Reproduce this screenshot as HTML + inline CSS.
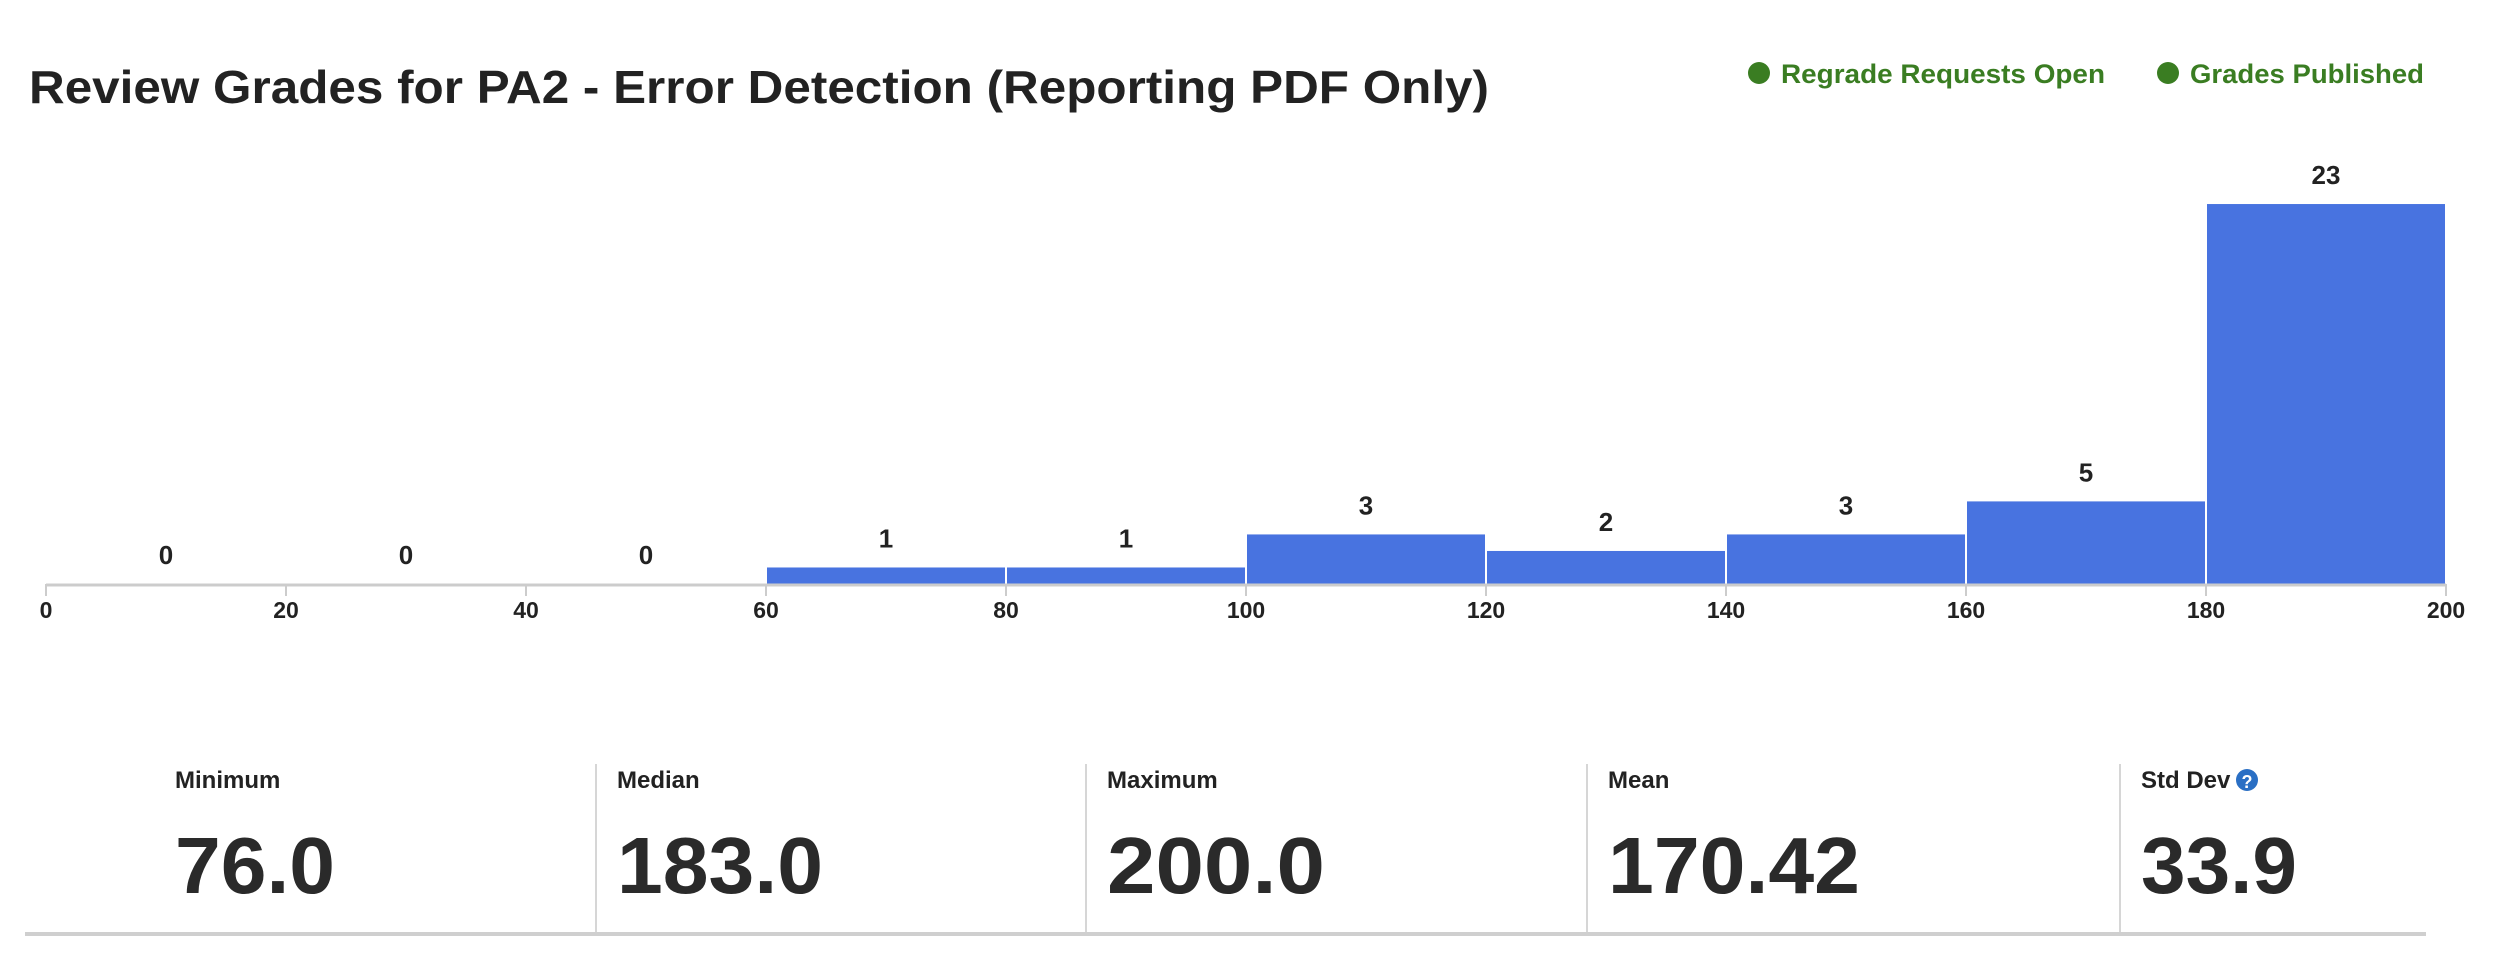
<!DOCTYPE html>
<html><head><meta charset="utf-8"><style>
html,body{margin:0;padding:0;background:#fff;width:2494px;height:966px;overflow:hidden}
svg{display:block}
text{font-family:"Liberation Sans",sans-serif}
</style></head><body>
<svg id="chart" width="2494" height="966" viewBox="0 0 2494 966" xmlns="http://www.w3.org/2000/svg">
<text x="29" y="103" font-size="46" font-weight="bold" fill="#222" textLength="1460" lengthAdjust="spacingAndGlyphs">Review Grades for PA2 - Error Detection (Reporting PDF Only)</text>
<g>
<circle cx="1759" cy="73" r="11" fill="#3a7d22"/>
<text x="1781" y="83" font-size="27" font-weight="bold" fill="#3a7d22" textLength="324" lengthAdjust="spacingAndGlyphs">Regrade Requests Open</text>
<circle cx="2168" cy="73" r="11" fill="#3a7d22"/>
<text x="2190" y="83" font-size="27" font-weight="bold" fill="#3a7d22" textLength="234" lengthAdjust="spacingAndGlyphs">Grades Published</text>
</g>
<g id="bars"></g>
<g id="axis"></g>
<g>
<line x1="596" y1="764" x2="596" y2="932" stroke="#d6d6d6" stroke-width="2"/>
<line x1="1086" y1="764" x2="1086" y2="932" stroke="#d6d6d6" stroke-width="2"/>
<line x1="1587" y1="764" x2="1587" y2="932" stroke="#d6d6d6" stroke-width="2"/>
<line x1="2120" y1="764" x2="2120" y2="932" stroke="#d6d6d6" stroke-width="2"/>
<rect x="25" y="932" width="2401" height="4" fill="#cfcfcf"/>
<text x="175" y="788" font-size="24" font-weight="bold" fill="#222">Minimum</text>
<text x="175" y="893" font-size="80" font-weight="bold" fill="#2a2a2a" textLength="160" lengthAdjust="spacingAndGlyphs">76.0</text>
<text x="617" y="788" font-size="24" font-weight="bold" fill="#222">Median</text>
<text x="617" y="893" font-size="80" font-weight="bold" fill="#2a2a2a" textLength="206" lengthAdjust="spacingAndGlyphs">183.0</text>
<text x="1107" y="788" font-size="24" font-weight="bold" fill="#222">Maximum</text>
<text x="1107" y="893" font-size="80" font-weight="bold" fill="#2a2a2a" textLength="218" lengthAdjust="spacingAndGlyphs">200.0</text>
<text x="1608" y="788" font-size="24" font-weight="bold" fill="#222">Mean</text>
<text x="1608" y="893" font-size="80" font-weight="bold" fill="#2a2a2a" textLength="252" lengthAdjust="spacingAndGlyphs">170.42</text>
<text x="2141" y="788" font-size="24" font-weight="bold" fill="#222">Std Dev</text>
<circle cx="2247" cy="780" r="11" fill="#2a6fc4"/>
<text x="2247" y="788" font-size="18" font-weight="bold" fill="#fff" text-anchor="middle">?</text>
<text x="2141" y="893" font-size="80" font-weight="bold" fill="#2a2a2a" textLength="156" lengthAdjust="spacingAndGlyphs">33.9</text>
</g>
</svg>
<script>
const binStarts = [0, 20, 40, 60, 80, 100, 120, 140, 160, 180];
const binWidth = 20;
const counts = [0, 0, 0, 1, 1, 3, 2, 3, 5, 23];
const tickValues = [0, 20, 40, 60, 80, 100, 120, 140, 160, 180, 200];
const tickLabels = ["0", "20", "40", "60", "80", "100", "120", "140", "160", "180", "200"];

const NS = "http://www.w3.org/2000/svg";
const x0 = 46, x1 = 2446, axisY = 584, pxPerUnit = 16.52;
const xs = v => x0 + (v - 0) / 200 * (x1 - x0);
const ys = c => axisY - c * pxPerUnit;
function mk(tag, attrs, parent) {
  const el = document.createElementNS(NS, tag);
  for (const k in attrs) el.setAttribute(k, attrs[k]);
  parent.appendChild(el);
  return el;
}
const bars = document.getElementById('bars');
binStarts.forEach((s, i) => {
  const c = counts[i];
  const left = xs(s), right = xs(s + binWidth);
  if (c > 0) {
    const r = mk('rect', {x: left + 1, y: ys(c), width: right - left - 2, height: axisY - ys(c), fill: '#4873e0'}, bars);
    
    
  }
  const t = mk('text', {x: (left + right) / 2, y: ys(c) - 20, 'font-size': 26, 'font-weight': 'bold', fill: '#222', 'text-anchor': 'middle'}, bars);
  t.textContent = String(c);
  
  
});
const axis = document.getElementById('axis');
const al = mk('line', {x1: x0, y1: axisY + 1, x2: x1, y2: axisY + 1, stroke: '#cccccc', 'stroke-width': 3}, axis);


tickValues.forEach((v, i) => {
  const tk = mk('line', {x1: xs(v), y1: axisY, x2: xs(v), y2: axisY + 12, stroke: '#cccccc', 'stroke-width': 2}, axis);
  
  
  const tl = mk('text', {x: xs(v), y: 618, 'font-size': 23, 'font-weight': 'bold', fill: '#222', 'text-anchor': 'middle'}, axis);
  tl.textContent = tickLabels[i];
  
  
});
</script>
</body></html>
